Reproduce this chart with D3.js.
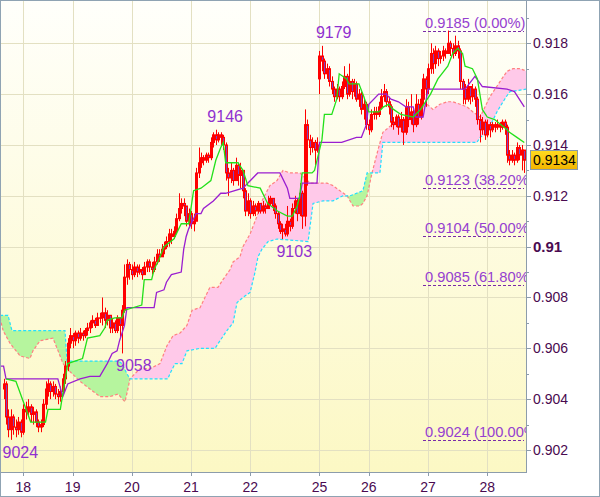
<!DOCTYPE html>
<html><head><meta charset="utf-8">
<script src="https://cdn.jsdelivr.net/npm/d3@7"></script>
<style>html,body{margin:0;padding:0;background:#fff;}svg{display:block;font-family:"Liberation Sans",Arial,sans-serif;}</style>
</head><body><svg id="c" width="600" height="497"></svg>
<script>
// ---- data (prices in pips: 9134 = 0.9134) ----
const opens = [9044,9046,9033,9028,9033,9029,9028,9031,9027,9036,9035,9037,9034,9035,9031,9029,9030,9038,9044,9046,
9043,9045,9042,9041,9043,9048,9053,9062,9065,9063,9066,9064,9066,9065,9067,9068,9070,9071,9069,9072,
9072,9074,9071,9073,9068,9070,9067,9072,9069,9075,9088,9093,9091,9089,9092,9090,9091,9089,9092,9094,
9092,9091,9094,9097,9096,9099,9100,9102,9105,9104,9106,9111,9115,9117,9116,9110,9113,9109,9110,9129,
9133,9135,9134,9136,9135,9141,9144,9142,9144,9143,9140,9129,9127,9130,9126,9132,9128,9130,9122,9114,
9118,9113,9116,9114,9117,9114,9116,9115,9117,9119,9116,9113,9109,9106,9107,9105,9110,9108,9115,9118,
9113,9121,9112,9148,9142,9139,9141,9138,9166,9175,9173,9168,9170,9165,9162,9159,9162,9159,9163,9167,
9160,9165,9161,9164,9158,9160,9154,9156,9148,9146,9152,9153,9152,9155,9159,9161,9157,9155,9149,9148,
9151,9147,9150,9145,9155,9150,9153,9148,9156,9151,9158,9166,9162,9170,9176,9172,9177,9174,9175,9177,
9176,9180,9178,9176,9179,9177,9165,9162,9158,9163,9159,9162,9158,9150,9146,9149,9144,9148,9146,9148,
9147,9148,9147,9149,9147,9136,9134,9136,9134,9139,9136,9138];
const closes = [9046,9033,9028,9033,9029,9028,9031,9027,9036,9035,9037,9034,9035,9031,9029,9030,9038,9044,9046,9043,
9045,9042,9041,9043,9048,9053,9062,9065,9063,9066,9064,9066,9065,9067,9068,9070,9071,9069,9072,9072,
9074,9071,9073,9068,9070,9067,9072,9069,9075,9088,9093,9091,9089,9092,9090,9091,9089,9092,9094,9092,
9091,9094,9097,9096,9099,9100,9102,9105,9104,9106,9111,9115,9117,9116,9110,9113,9109,9110,9129,9133,
9135,9134,9136,9135,9141,9144,9142,9144,9143,9140,9129,9127,9130,9126,9132,9128,9130,9122,9114,9118,
9113,9116,9114,9117,9114,9116,9115,9117,9119,9116,9113,9109,9106,9107,9105,9110,9108,9115,9118,9113,
9121,9112,9148,9142,9139,9141,9138,9140,9175,9173,9168,9170,9165,9162,9159,9162,9159,9163,9167,9160,
9165,9161,9164,9158,9160,9154,9156,9148,9146,9152,9153,9152,9155,9159,9161,9157,9155,9149,9148,9151,
9147,9150,9145,9155,9150,9153,9148,9156,9151,9158,9166,9162,9170,9176,9172,9177,9174,9175,9177,9176,
9180,9178,9176,9179,9177,9165,9162,9158,9163,9159,9162,9158,9150,9146,9149,9144,9148,9146,9148,9147,
9148,9147,9149,9147,9136,9134,9136,9134,9139,9136,9138,9134];
const highs = [9048,9047,9036,9036,9034,9032,9033,9032,9038,9039,9040,9038,9037,9036,9032,9032,9040,9047,9048,9047,
9047,9046,9044,9045,9050,9055,9064,9068,9066,9067,9067,9068,9067,9068,9070,9071,9073,9072,9074,9074,
9080,9076,9075,9073,9072,9071,9073,9072,9077,9093,9095,9094,9093,9094,9093,9093,9092,9094,9095,9095,
9094,9096,9099,9099,9101,9102,9104,9107,9107,9108,9113,9121,9119,9119,9116,9115,9114,9113,9131,9139,
9137,9136,9137,9137,9143,9145,9146,9145,9145,9144,9141,9131,9133,9131,9135,9133,9133,9130,9123,9121,
9119,9118,9117,9118,9117,9118,9117,9120,9120,9119,9117,9114,9110,9109,9109,9116,9111,9117,9120,9119,
9125,9122,9154,9150,9144,9143,9142,9143,9177,9179,9174,9172,9171,9167,9163,9164,9163,9165,9171,9168,
9172,9166,9166,9165,9162,9161,9158,9157,9150,9154,9155,9155,9157,9162,9164,9162,9159,9156,9151,9152,
9152,9153,9151,9158,9157,9160,9154,9160,9158,9162,9168,9167,9172,9180,9178,9179,9178,9177,9179,9178,
9185,9181,9180,9183,9181,9178,9166,9164,9166,9163,9164,9163,9159,9152,9151,9150,9150,9149,9149,9149,
9150,9149,9150,9150,9148,9138,9138,9137,9141,9140,9140,9138];
const lows = [9040,9030,9025,9024,9026,9025,9026,9025,9026,9032,9033,9031,9030,9029,9027,9027,9029,9036,9041,9040,
9041,9040,9038,9039,9042,9046,9051,9060,9060,9061,9062,9063,9063,9064,9065,9066,9068,9068,9069,9070,
9069,9068,9069,9066,9066,9066,9066,9064,9058,9074,9085,9087,9087,9088,9088,9089,9087,9089,9090,9090,
9089,9090,9093,9094,9096,9097,9099,9100,9101,9103,9105,9110,9113,9112,9108,9108,9107,9106,9110,9127,
9131,9132,9133,9133,9134,9139,9140,9141,9140,9138,9126,9120,9125,9124,9126,9124,9123,9119,9112,9112,
9111,9112,9112,9113,9113,9113,9113,9115,9116,9114,9111,9107,9105,9103,9104,9104,9106,9107,9113,9110,
9112,9107,9108,9124,9136,9137,9132,9137,9160,9169,9166,9166,9163,9160,9157,9158,9157,9158,9162,9158,
9159,9158,9159,9157,9155,9152,9150,9146,9144,9145,9150,9150,9151,9154,9157,9155,9152,9147,9146,9147,
9144,9145,9140,9144,9147,9148,9145,9147,9148,9150,9156,9155,9160,9168,9168,9170,9171,9172,9173,9174,
9176,9175,9174,9175,9174,9162,9156,9156,9157,9156,9157,9155,9148,9141,9144,9142,9143,9143,9145,9145,
9146,9145,9146,9144,9133,9132,9133,9132,9133,9134,9130,9129];

// Ichimoku lines: [bar index, pips]
const tenkan = [[1,9048],[5,9047],[11,9031],[17,9031],[18,9036],[23,9036],[26,9054],[32,9056],[33,9060],[34,9064],[39,9065],[41,9068],[42,9071],[45,9072],[48,9072],[49,9075],[56,9077],[57,9087],[60,9087],[61,9091],[63,9095],[65,9100],[69,9103],[72,9109],[75,9109],[77,9122],[80,9123],[84,9126],[86,9134],[88,9139],[89,9141],[90,9133],[95,9133],[97,9130],[99,9124],[104,9123],[107,9117],[111,9114],[115,9112],[117,9112],[119,9116],[120,9120],[121,9129],[125,9129],[126,9130],[129,9142],[130,9152],[133,9152],[135,9158],[136,9168],[139,9166],[140,9164],[144,9164],[146,9159],[148,9153],[152,9153],[154,9155],[156,9156],[158,9154],[161,9152],[166,9151],[169,9154],[173,9160],[176,9166],[180,9171],[182,9176],[184,9178],[186,9176],[187,9171],[190,9170],[192,9166],[194,9154],[196,9151],[199,9150],[204,9146],[205,9145],[208,9143],[211,9141]];
const kijun = [[-1.4,9053],[0,9053],[1,9048],[22,9048],[24,9041],[26,9046],[31,9048],[35,9049],[39,9049],[42,9054],[44,9058],[46,9059],[47,9063],[49,9069],[50,9076],[61,9076],[62,9082],[65,9083],[66,9086],[68,9089],[72,9090],[73,9099],[74,9104],[75,9107],[78,9113],[80,9113],[81,9115],[85,9118],[88,9121],[90,9121],[97,9123],[103,9129],[112,9129],[115,9123],[116,9119],[120,9119],[121,9125],[127,9125],[128,9141],[129,9141],[137,9141],[143,9143],[145,9143],[147,9148],[148,9156],[152,9160],[155,9160],[157,9158],[160,9157],[163,9155],[166,9155],[167,9151],[170,9151],[172,9162],[187,9162],[191,9167],[194,9163],[204,9162],[207,9161],[211,9155]];
const spanA = [[-1.44,9072],[-0.2,9067],[2.6,9062],[6.7,9057],[10.7,9056],[11.9,9059],[14.8,9063],[20,9064],[22.1,9059],[24.1,9054],[25.7,9052],[31,9047],[35,9044],[39.1,9041],[43.1,9041],[46.4,9042],[49.2,9039],[50.4,9044],[51.2,9048],[55.3,9052],[59.3,9052],[63.4,9054],[66.2,9061],[68.7,9065],[71.5,9066],[74.3,9069],[76.4,9075],[79.6,9076],[81.6,9080],[83.6,9084],[86.9,9084],[88.9,9087],[91.8,9091],[93,9094],[95.8,9096],[97,9100],[99.9,9105],[102.7,9112],[104.7,9118],[107.9,9124],[110.8,9126],[113.2,9130],[116,9129],[120.1,9129],[124.2,9125],[128.2,9125],[131.1,9125],[133.5,9124],[136.3,9122],[139.2,9120],[141.6,9116],[144.4,9116],[145.6,9117],[147.3,9120],[149.3,9129],[151.7,9138],[153.7,9145],[157.4,9148],[160.6,9149],[163.5,9151],[165.9,9153],[168.7,9154],[171.6,9156],[174,9154],[176.8,9156],[179.7,9157],[182.1,9157],[185,9156],[187.8,9155],[190.2,9153],[193.1,9151],[195.1,9155],[197.1,9159],[201.2,9165],[204,9169],[206.4,9170],[209.3,9170],[212.1,9169]];
const spanB = [[-1.44,9073],[1.8,9073],[3.4,9067],[24.9,9067],[25.7,9055],[46.4,9055],[48,9054],[50,9050],[51.2,9048],[66.6,9048],[67.4,9050],[69.5,9054],[72.3,9054],[74.3,9059],[79.6,9060],[85.7,9060],[87.7,9063],[90.5,9067],[93,9070],[94.6,9078],[97,9080],[99.9,9082],[101.9,9090],[103.1,9096],[104.7,9099],[107.2,9102],[110.8,9103],[123.4,9102],[124.2,9108],[125.4,9117],[129.4,9118],[133.5,9118],[137.5,9120],[140.4,9120],[145.6,9122],[147.3,9129],[152.5,9129],[153.7,9141],[160.6,9141],[191.8,9141],[193.1,9143],[196.3,9145],[197.9,9149],[199.9,9153],[202.4,9157],[204.4,9160],[205.2,9161],[212.1,9162]];

const dayTicks = [8,28,52,76,100,128,148,172,196];
const dayLabels = ["18","19","20","21","22","25","26","27","28"];
const yMajor = [0.902,0.904,0.906,0.908,0.910,0.912,0.914,0.916,0.918];
const yMajorLabels = ["0.902","0.904","0.906","0.908","0.91","0.912","0.914","0.916","0.918"];
const yMinor = [0.903,0.905,0.907,0.909,0.911,0.913,0.915,0.917,0.919];
const fibLevels = [9185,9123,9104,9085,9024];
const fibPct = ["0.00%","38.20%","50.00%","61.80%","100.00%"];
const swingIdx = [2,48,85,113,129];
const swingVal = [9024,9058,9146,9103,9179];
const swingType = ["L","L","H","L","H"];
const lastPrice = 9134;

// ---- layout ----
const W = 600, H = 497, PR = 526, PB = 472;
const P = v => v / 10000;
const x = d3.scaleLinear().domain([-1.442, 211.69]).range([0, PR]);
const y = d3.scaleLinear().domain([0.902, 0.918]).range([450, 43.3]);

const svg = d3.select("#c");
const defs = svg.append("defs");
const bg = defs.append("linearGradient").attr("id","bg").attr("x1",0).attr("y1",0).attr("x2",0).attr("y2",1);
bg.append("stop").attr("offset","0%").attr("stop-color","#fffffb");
bg.append("stop").attr("offset","100%").attr("stop-color","#fcf8c4");
const gold = defs.append("linearGradient").attr("id","gold").attr("x1",0).attr("y1",0).attr("x2",0).attr("y2",1);
gold.append("stop").attr("offset","0%").attr("stop-color","#ffdc20");
gold.append("stop").attr("offset","100%").attr("stop-color","#f2b400");
defs.append("clipPath").attr("id","plot").append("rect").attr("x",0).attr("y",0).attr("width",PR).attr("height",PB);

const areaAbove = d3.area().x(d=>x(d[0])).y0(0).y1(d=>y(P(d[1])));
const areaBelow = d3.area().x(d=>x(d[0])).y0(PB).y1(d=>y(P(d[1])));
defs.append("clipPath").attr("id","aboveB").append("path").attr("d", areaAbove(spanB));
defs.append("clipPath").attr("id","aboveA").append("path").attr("d", areaAbove(spanA));

svg.append("rect").attr("x",0).attr("y",0).attr("width",W).attr("height",H).attr("fill","#fff");
svg.append("rect").attr("x",0).attr("y",0).attr("width",PR).attr("height",PB).attr("fill","url(#bg)");

const plot = svg.append("g").attr("clip-path","url(#plot)");
// grid
plot.selectAll(".gv").data(dayTicks).join("line")
  .attr("x1",d=>Math.round(x(d))+0.5).attr("x2",d=>Math.round(x(d))+0.5).attr("y1",0).attr("y2",PB)
  .attr("stroke","#e3e0c2").attr("stroke-width",1);
plot.selectAll(".gh").data(yMajor).join("line")
  .attr("x1",0).attr("x2",PR).attr("y1",d=>Math.round(y(d))+0.5).attr("y2",d=>Math.round(y(d))+0.5)
  .attr("stroke","#e3e0c2").attr("stroke-width",1);

// cloud fills
plot.append("g").attr("clip-path","url(#aboveB)").append("path").attr("d", areaBelow(spanA)).attr("fill","#ffc9e9");
plot.append("g").attr("clip-path","url(#aboveA)").append("path").attr("d", areaBelow(spanB)).attr("fill","#b6f59e");
const line = d3.line().x(d=>x(d[0])).y(d=>y(P(d[1])));
plot.append("path").attr("d", line(spanA)).attr("fill","none").attr("stroke","#ff8080").attr("stroke-width",1.2).attr("stroke-dasharray","3,2");
plot.append("path").attr("d", line(spanB)).attr("fill","none").attr("stroke","#22e0ff").attr("stroke-width",1.2).attr("stroke-dasharray","3,2");

// fib levels
const fib = plot.append("g");
fibLevels.forEach((lv,k)=>{
  const yy = Math.round(y(P(lv)))+0.5;
  fib.append("line").attr("x1",423).attr("x2",524).attr("y1",yy).attr("y2",yy)
    .attr("stroke","#7a2aa8").attr("stroke-width",1).attr("stroke-dasharray","3,2");
  fib.append("text").attr("x",425).attr("y",yy-4).attr("font-size",14.7).attr("fill","#9540d0")
    .text(P(lv).toFixed(4)+" ("+fibPct[k]+")");
});

// candles
const idx = d3.range(closes.length);
const cg = plot.append("g");
cg.selectAll(".w").data(idx).join("line")
  .attr("x1",i=>Math.round(x(i))+0.5).attr("x2",i=>Math.round(x(i))+0.5)
  .attr("y1",i=>y(P(highs[i]))).attr("y2",i=>y(P(lows[i])))
  .attr("stroke","#ff0000").attr("stroke-width",1);
cg.selectAll(".b").data(idx).join("rect")
  .attr("x",i=>Math.round(x(i))-0.5).attr("width",2)
  .attr("y",i=>y(P(Math.max(opens[i],closes[i]))))
  .attr("height",i=>Math.max(0.5, Math.abs(y(P(opens[i]))-y(P(closes[i])))))
  .attr("fill",i=>closes[i]<opens[i]?"#8040c0":"none")
  .attr("stroke","#ff0000").attr("stroke-width",1);

// ichimoku lines
plot.append("path").attr("d", line(kijun)).attr("fill","none").attr("stroke","#9a1ed0").attr("stroke-width",1.3);
plot.append("path").attr("d", line(tenkan)).attr("fill","none").attr("stroke","#22e01a").attr("stroke-width",1.3);

// swing labels
swingIdx.forEach((si,k)=>{
  const yy = y(P(swingVal[k]));
  plot.append("text").attr("x", x(si)-6).attr("y", swingType[k]==="H" ? yy-8 : yy+18)
    .attr("font-size",16).attr("fill","#9030d0").text(swingVal[k]);
});

// axes
svg.append("line").attr("x1",PR+0.5).attr("x2",PR+0.5).attr("y1",0).attr("y2",PB+1).attr("stroke","#8c9cab");
svg.append("line").attr("x1",0).attr("x2",PR+1).attr("y1",PB+0.5).attr("y2",PB+0.5).attr("stroke","#8c9cab");
svg.selectAll(".ymt").data(yMajor).join("line")
  .attr("x1",PR).attr("x2",PR+5).attr("y1",d=>Math.round(y(d))+0.5).attr("y2",d=>Math.round(y(d))+0.5).attr("stroke","#8c9cab");
svg.selectAll(".ymi").data(yMinor).join("line")
  .attr("x1",PR).attr("x2",PR+3).attr("y1",d=>Math.round(y(d))+0.5).attr("y2",d=>Math.round(y(d))+0.5).attr("stroke","#8c9cab");
svg.selectAll(".yl").data(yMajor).join("text")
  .attr("x",533).attr("y",d=>y(d)+5).attr("font-size",d=>d===0.91?15:14)
  .attr("font-weight",d=>d===0.91?"bold":"normal")
  .attr("fill","#4a0a50").text((d,k)=>yMajorLabels[k]);
svg.selectAll(".xt").data(dayTicks).join("line")
  .attr("x1",d=>Math.round(x(d))+0.5).attr("x2",d=>Math.round(x(d))+0.5).attr("y1",PB).attr("y2",PB+4).attr("stroke","#8c9cab");
svg.selectAll(".xl").data(dayTicks).join("text")
  .attr("x",d=>x(d)).attr("y",492).attr("text-anchor","middle").attr("font-size",14)
  .attr("fill","#4a0a50").text((d,k)=>dayLabels[k]);

// price tag
const py = y(P(lastPrice));
svg.append("rect").attr("x",530.5).attr("y",Math.round(py)-9.5).attr("width",47).attr("height",19)
  .attr("fill","url(#gold)").attr("stroke","#8899aa");
svg.append("text").attr("x",533).attr("y",py+5).attr("font-size",14).attr("fill","#000").text(P(lastPrice).toFixed(4));

// outer frame
svg.append("rect").attr("x",0.5).attr("y",0.5).attr("width",W-1).attr("height",H-1).attr("fill","none").attr("stroke","#8fa3b3");
</script></body></html>
